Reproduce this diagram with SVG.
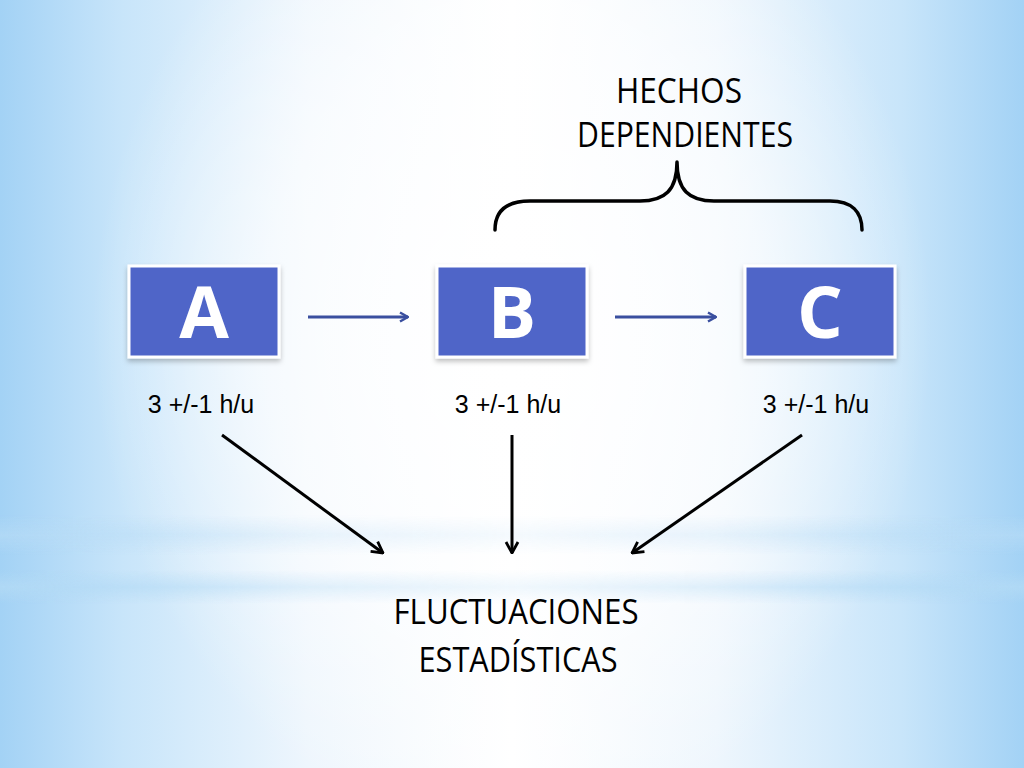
<svg xmlns="http://www.w3.org/2000/svg" width="1024" height="768" viewBox="0 0 1024 768">
  <defs>
    <linearGradient id="bgH" x1="0" y1="0" x2="1024" y2="0" gradientUnits="userSpaceOnUse">
      <stop offset="0" stop-color="#A3D2F5"/>
      <stop offset="0.12" stop-color="#C8E5FA"/>
      <stop offset="0.3" stop-color="#EEF6FD"/>
      <stop offset="0.5" stop-color="#FFFFFF"/>
      <stop offset="0.7" stop-color="#EEF6FD"/>
      <stop offset="0.88" stop-color="#C8E5FA"/>
      <stop offset="1" stop-color="#A3D2F5"/>
    </linearGradient>
    <radialGradient id="glow" cx="512" cy="330" r="420" gradientUnits="userSpaceOnUse" gradientTransform="translate(512 330) scale(1 1.2) translate(-512 -330)">
      <stop offset="0" stop-color="#FFFFFF" stop-opacity="1"/>
      <stop offset="0.6" stop-color="#FFFFFF" stop-opacity="0.6"/>
      <stop offset="1" stop-color="#FFFFFF" stop-opacity="0"/>
    </radialGradient>
    <linearGradient id="streakFade" x1="0" y1="0" x2="1024" y2="0" gradientUnits="userSpaceOnUse">
      <stop offset="0" stop-color="#FFFFFF" stop-opacity="1"/>
      <stop offset="0.3" stop-color="#FFFFFF" stop-opacity="0.45"/>
      <stop offset="0.5" stop-color="#FFFFFF" stop-opacity="0.25"/>
      <stop offset="0.7" stop-color="#FFFFFF" stop-opacity="0.45"/>
      <stop offset="1" stop-color="#FFFFFF" stop-opacity="1"/>
    </linearGradient>
    <mask id="streakMask">
      <rect x="0" y="0" width="1024" height="768" fill="url(#streakFade)"/>
    </mask>
    <linearGradient id="streak1" x1="0" y1="515" x2="0" y2="555" gradientUnits="userSpaceOnUse">
      <stop offset="0" stop-color="#B8DCF6" stop-opacity="0"/>
      <stop offset="0.5" stop-color="#B8DCF6" stop-opacity="0.6"/>
      <stop offset="1" stop-color="#B8DCF6" stop-opacity="0"/>
    </linearGradient>
    <linearGradient id="streak2" x1="0" y1="570" x2="0" y2="604" gradientUnits="userSpaceOnUse">
      <stop offset="0" stop-color="#B3DAF5" stop-opacity="0"/>
      <stop offset="0.5" stop-color="#B3DAF5" stop-opacity="0.8"/>
      <stop offset="1" stop-color="#B3DAF5" stop-opacity="0"/>
    </linearGradient>
    <filter id="shadow" x="-10%" y="-10%" width="120%" height="130%">
      <feDropShadow dx="0" dy="3" stdDeviation="2.5" flood-color="#000000" flood-opacity="0.25"/>
    </filter>
    <marker id="blueHead" viewBox="0 0 12 12" refX="11" refY="6" markerWidth="12" markerHeight="12" markerUnits="userSpaceOnUse" orient="auto">
      <path d="M3,1.5 L11,6 L3,10.5" fill="none" stroke="#3A4F9F" stroke-width="2.5" stroke-linejoin="miter"/>
    </marker>
    <marker id="blackHead" viewBox="0 0 16 16" refX="15" refY="8" markerWidth="16" markerHeight="16" markerUnits="userSpaceOnUse" orient="auto">
      <path d="M4,2 L15,8 L4,14" fill="none" stroke="#000000" stroke-width="2.8"/>
    </marker>
  </defs>
  <style>
    .box { fill: #4F65C8; stroke: #FFFFFF; stroke-width: 3; filter: url(#shadow); }
    .letter { font-family: "Open Sans", "Liberation Sans", sans-serif; font-weight: bold; font-size: 72px; fill: #FFFFFF; text-anchor: middle; }
    .lbl { font-family: "Liberation Sans", Arial, sans-serif; font-size: 25px; fill: #000000; text-anchor: middle; }
    .title { font-family: "Open Sans", "Liberation Sans", sans-serif; font-size: 34px; fill: #000000; text-anchor: middle; }
    .blue { stroke: #3A4F9F; stroke-width: 3; fill: none; marker-end: url(#blueHead); }
    .black { stroke: #000000; stroke-width: 3; fill: none; marker-end: url(#blackHead); }
  </style>

  <!-- background -->
  <rect x="0" y="0" width="1024" height="768" fill="url(#bgH)"/>
  <rect x="0" y="0" width="1024" height="768" fill="url(#glow)"/>
  <g mask="url(#streakMask)">
    <rect x="0" y="515" width="1024" height="40" fill="url(#streak1)"/>
    <rect x="0" y="570" width="1024" height="34" fill="url(#streak2)"/>
  </g>

  <!-- nodes -->
  <g id="node-A">
    <rect class="box" x="129" y="266" width="150" height="91"/>
    <text class="letter" x="204" y="338">A</text>
  </g>
  <g id="node-B">
    <rect class="box" x="437" y="266" width="150" height="91"/>
    <text class="letter" x="512" y="338">B</text>
  </g>
  <g id="node-C">
    <rect class="box" x="745" y="266" width="150" height="91"/>
    <text class="letter" x="820" y="338">C</text>
  </g>

  <g id="label-A"><text class="lbl" x="201" y="413">3 +/-1 h/u</text></g>
  <g id="label-B"><text class="lbl" x="508" y="413">3 +/-1 h/u</text></g>
  <g id="label-C"><text class="lbl" x="816" y="413">3 +/-1 h/u</text></g>

  <g id="hechos">
    <text class="title" x="679" y="103" textLength="126" lengthAdjust="spacingAndGlyphs">HECHOS</text>
    <text class="title" x="685" y="147" textLength="216" lengthAdjust="spacingAndGlyphs">DEPENDIENTES</text>
  </g>

  <g id="brace">
    <path d="M495,230 C495,212 505,201 530,201 L640,201 C665,201 677,190 677,162 C677,190 689,201 714,201 L830,201 C852,201 862,212 862,230" fill="none" stroke="#000000" stroke-width="3.5" stroke-linecap="round" stroke-linejoin="round"/>
  </g>

  <g id="fluctuaciones">
    <text class="title" x="516" y="624" textLength="245" lengthAdjust="spacingAndGlyphs">FLUCTUACIONES</text>
    <text class="title" x="518" y="672" textLength="199" lengthAdjust="spacingAndGlyphs">ESTADÍSTICAS</text>
  </g>

  <!-- connectors -->
  <g id="connectors">
    <line class="blue" x1="308" y1="317" x2="408" y2="317"/>
    <line class="blue" x1="615" y1="317" x2="716" y2="317"/>
    <line class="black" x1="222" y1="435" x2="383" y2="553"/>
    <line class="black" x1="512" y1="435" x2="512" y2="553"/>
    <line class="black" x1="802" y1="435" x2="632" y2="553"/>
  </g>
</svg>
